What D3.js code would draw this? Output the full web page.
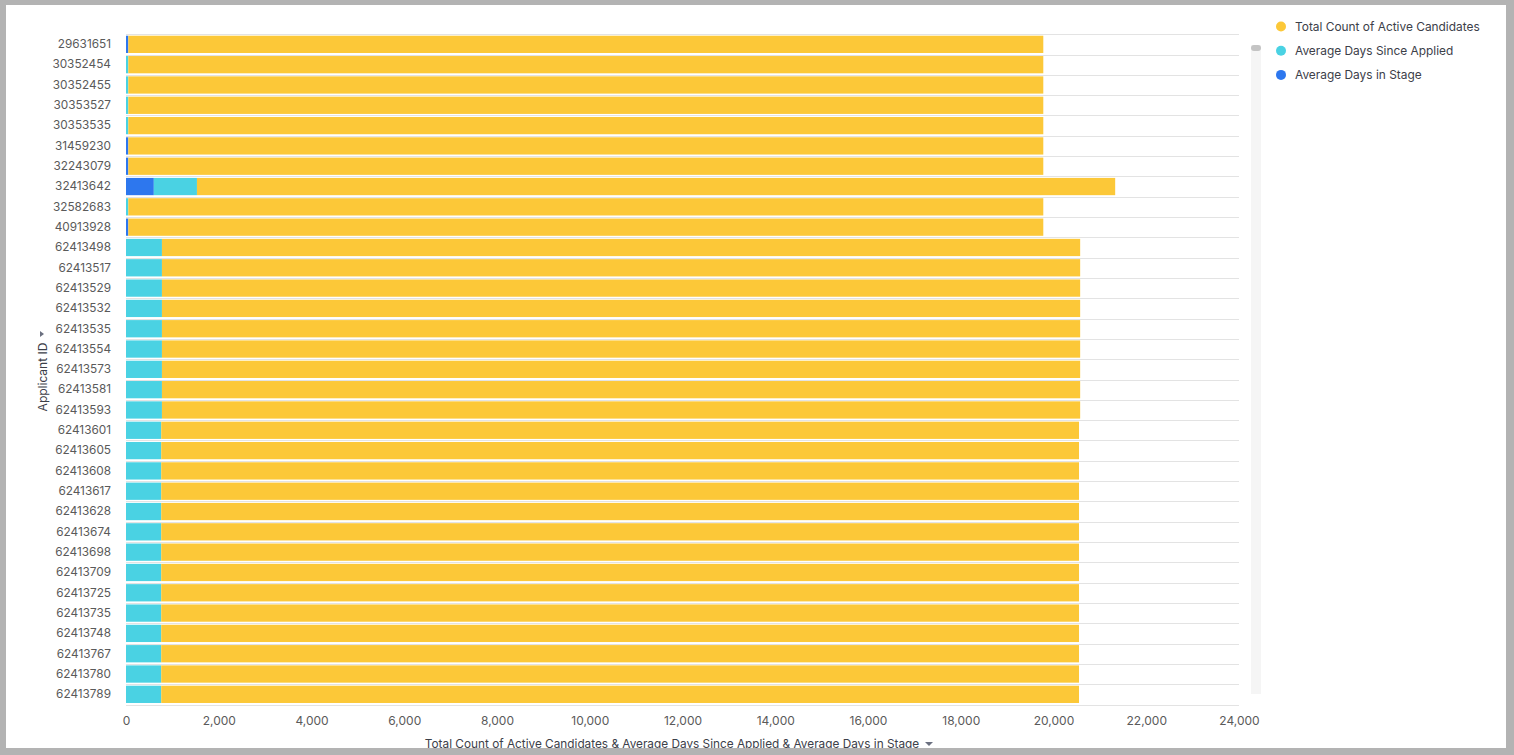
<!DOCTYPE html>
<html>
<head>
<meta charset="utf-8">
<script src="https://cdn.jsdelivr.net/npm/d3@7"></script>
<style>
  html, body { margin: 0; padding: 0; background: #b3b3b3; }
  svg { display: block; }
  text { font-family: Inter, "Noto Sans", sans-serif; }
</style>
</head>
<body>
<svg id="chart" width="1514" height="755"></svg>
<script>
const applicantIds = ["29631651","30352454","30352455","30353527","30353535","31459230","32243079","32413642","32582683","40913928",
  "62413498","62413517","62413529","62413532","62413535","62413554","62413573","62413581","62413593",
  "62413601","62413605","62413608","62413617","62413628","62413674","62413698","62413709","62413725","62413735","62413748","62413767","62413780","62413789"];
const avgDaysInStage = [50,0,0,0,0,50,50,600,0,50,
  0,0,0,0,0,0,0,0,0,
  0,0,0,0,0,0,0,0,0,0,0,0,0,0];
const avgDaysSinceApplied = [0,50,50,50,50,0,0,930,50,0,
  775,775,775,775,775,775,775,775,775,
  760,760,760,760,760,760,760,760,760,760,760,760,760,760];
const totalActiveCandidates = [19730,19730,19730,19730,19730,19730,19730,19800,19730,19730,
  19800,19800,19800,19800,19800,19800,19800,19800,19800,
  19790,19790,19790,19790,19790,19790,19790,19790,19790,19790,19790,19790,19790,19790];
const xTicks = [0,2000,4000,6000,8000,10000,12000,14000,16000,18000,20000,22000,24000];
const seriesNames = ["Average Days in Stage","Average Days Since Applied","Total Count of Active Candidates"];
const seriesColors = ["#2d77ee","#4ad2e3","#fcc838"];
const legendOrder = ["Total Count of Active Candidates","Average Days Since Applied","Average Days in Stage"];

const svg = d3.select("#chart");
svg.append("rect").attr("x",6).attr("y",5).attr("width",1500).attr("height",743).attr("fill","#fff");

const x = d3.scaleLinear().domain([0,24000]).range([126,1239]);
const y = d3.scaleBand().domain(applicantIds).range([34.2,704.5]).paddingInner(0.15).paddingOuter(0.075);

const rows = applicantIds.map((id,i)=>({id, "Average Days in Stage":avgDaysInStage[i], "Average Days Since Applied":avgDaysSinceApplied[i], "Total Count of Active Candidates":totalActiveCandidates[i]}));
const stacked = d3.stack().keys(seriesNames)(rows);
const color = d3.scaleOrdinal().domain(seriesNames).range(seriesColors);

// gridlines at band boundaries
const step = y.step();
const bounds = applicantIds.map(id => y(id) - y.paddingInner()*step/2);
bounds.push(y(applicantIds[applicantIds.length-1]) + y.bandwidth() + y.paddingInner()*step/2);
svg.append("g").selectAll("line").data(bounds).join("line")
  .attr("x1",x(0)).attr("x2",x(24000))
  .attr("y1",d=>Math.round(d)+0.5).attr("y2",d=>Math.round(d)+0.5)
  .attr("stroke","#e3e3e3").attr("stroke-width",1);

svg.append("g").selectAll("g").data(stacked).join("g")
  .attr("fill",d=>color(d.key))
  .selectAll("rect").data(d=>d).join("rect")
  .attr("x",d=>x(d[0])).attr("width",d=>Math.max(0,x(d[1])-x(d[0])))
  .attr("y",d=>y(d.data.id)).attr("height",y.bandwidth());

// y axis labels
const yAxis = d3.axisLeft(y).tickSize(0).tickPadding(15);
const gy = svg.append("g").attr("transform",`translate(${x(0)},0)`).call(yAxis);
gy.select(".domain").remove();
gy.selectAll("text").attr("font-size",11.8).attr("fill","#5a5a5a").style("font-family","Inter, sans-serif");

// x axis labels
const xAxis = d3.axisBottom(x).tickValues(xTicks).tickFormat(d3.format(",")).tickSize(0).tickPadding(0);
const gx = svg.append("g").attr("transform",`translate(0,716)`).call(xAxis);
gx.select(".domain").remove();
gx.selectAll("text").attr("font-size",12).attr("fill","#5a5a5a").attr("dy","0.71em").style("font-family","Inter, sans-serif");

// axis titles
const yt = svg.append("g").attr("transform","translate(47,377) rotate(-90)");
yt.append("text").attr("text-anchor","middle").attr("font-size",12).attr("fill","#3c4049").text("Applicant ID");
yt.append("path").attr("d","M40,-7 L46,-7 L43,-3 Z").attr("fill","#6b7080");

const xt = svg.append("g").attr("transform","translate(672,748)");
xt.append("text").attr("text-anchor","middle").attr("font-size",11.8).attr("fill","#3c4049").text("Total Count of Active Candidates & Average Days Since Applied & Average Days in Stage");
xt.append("path").attr("d","M253,-6 L261,-6 L257,-2 Z").attr("fill","#6b7080");

// scrollbar
svg.append("rect").attr("x",1251).attr("y",45).attr("width",10).attr("height",649).attr("fill","#f5f5f5");
svg.append("rect").attr("x",1251).attr("y",45).attr("width",10).attr("height",6).attr("rx",3).attr("fill","#c4c4c4");

// legend
const lg = svg.append("g").selectAll("g").data(legendOrder).join("g")
  .attr("transform",(d,i)=>`translate(1281,${26.5+i*24.2})`);
lg.append("circle").attr("r",5).attr("fill",d=>color(d));
lg.append("text").attr("x",14).attr("dy","0.35em").attr("font-size",11.9).attr("fill","#3c4049").text(d=>d);

// frame on top
svg.append("rect").attr("x",0).attr("y",748).attr("width",1514).attr("height",7).attr("fill","#b3b3b3");
</script>
</body>
</html>
